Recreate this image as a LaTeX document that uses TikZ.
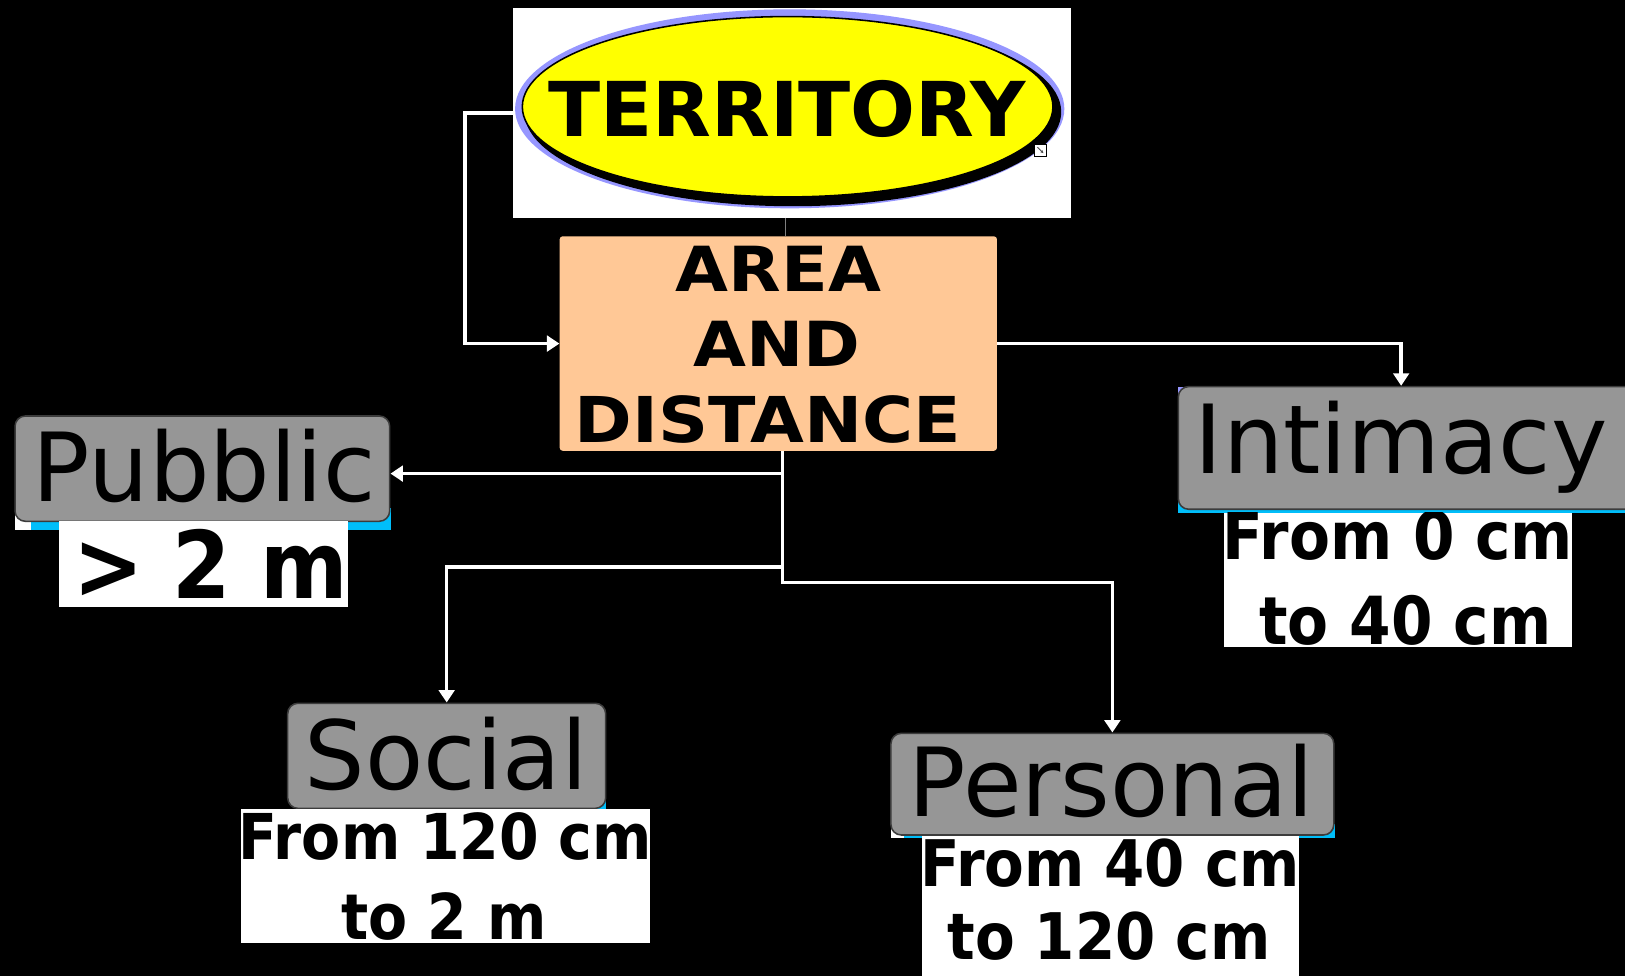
\documentclass[tikz,border=0pt]{standalone}
\usepackage{fontspec}
\usetikzlibrary{arrows.meta,shapes.geometric}
\newfontfamily\regF{DejaVu Sans}
\newfontfamily\terrF[FakeStretch=1.01]{DejaVu Sans Bold}
\newfontfamily\wideF[FakeStretch=1.1]{DejaVu Sans Bold}
\newfontfamily\condF[FakeStretch=0.9]{DejaVu Sans Bold}
\definecolor{boxgray}{RGB}{150,150,150}
\definecolor{boxedge}{RGB}{60,60,60}
\definecolor{peach}{RGB}{255,200,150}
\definecolor{glowcyan}{RGB}{0,190,250}
\definecolor{lavender}{RGB}{150,150,255}
\definecolor{ellyellow}{RGB}{255,255,0}
\begin{document}
\begin{tikzpicture}[x=1pt,y=-1pt,
  conn/.style={draw=white, line width=3.5pt},
  arr/.style={conn, -{Triangle[length=12pt,width=15pt]}},
  graybox/.style={rectangle, rounded corners=10pt, fill=boxgray, draw=boxedge, line width=1.5pt, inner sep=0pt},
  whitebox/.style={rectangle, fill=white, inner sep=0pt},
  lbl/.style={font=\regF\fontsize{92}{92}\selectfont, text=black, anchor=base, inner sep=0pt},
  sub/.style={font=\condF\fontsize{#1}{#1}\selectfont, text=black, anchor=base, inner sep=0pt},
  head/.style={font=\wideF\fontsize{60}{60}\selectfont, text=black, anchor=base, inner sep=0pt}]
\fill[black] (0,0) rectangle (1568,942);
\useasboundingbox (0,0) rectangle (1568,942);

% TERRITORY
\node[whitebox, minimum width=538pt, minimum height=202pt] (terr) at (764,109) {};
\fill[lavender] (762,105) ellipse [x radius=265pt, y radius=96pt];
\fill[black] (765,108) ellipse [x radius=259pt, y radius=91pt];
\filldraw[fill=ellyellow, draw=black, line width=1.5pt] (760,103) ellipse [x radius=256pt, y radius=87pt];
\node[font=\terrF\fontsize{73}{73}\selectfont, anchor=base, inner sep=0pt] (terrt) at (759.5,132) {TERRITORY};
\node[draw=black, fill=white, minimum size=11pt, inner sep=0pt, line width=0.8pt] (icon) at (1004,145) {};
\draw[line width=0.8pt, draw=black!70, -{Latex[length=3pt,width=3pt]}] ([shift={(-3pt,3pt)}]icon.center) -- ([shift={(3pt,-3pt)}]icon.center);

% AREA AND DISTANCE
\node[rectangle, rounded corners=3pt, fill=peach, minimum width=422pt, minimum height=207pt, inner sep=0pt] (area) at (751,331.5) {};
\node[head] (areat1) at (751,281.4) {AREA};
\node[head] (areat2) at (750,353.8) {AND};
\node[head, font=\wideF\fontsize{61}{61}\selectfont] (areat3) at (741,427) {DISTANCE};
\draw[draw=black!50, line width=1pt] ([xshift=-6pt]terr.south) -- ([xshift=-6pt]terr.south |- area.north);

% glow backgrounds
\fill[white] (14.5,490) rectangle (30,511);
\fill[glowcyan] (30,490) rectangle (377,511);
\fill[lavender] (1137,373) rectangle (1152,388);
\fill[glowcyan] (1137,480) rectangle (1580,494.7);
\fill[glowcyan] (570,768) rectangle (585,781);
\fill[white] (859.7,795) rectangle (872,809);
\fill[glowcyan] (872,795) rectangle (1288,809);

% gray boxes
\node[graybox, minimum width=361.5pt, minimum height=101.6pt] (pub) at (195.25,452.2) {};
\node[graybox, minimum width=443pt, minimum height=118.4pt] (int) at (1358.5,432.2) {};
\node[graybox, minimum width=306.8pt, minimum height=101.4pt] (soc) at (431,729.3) {};
\node[graybox, minimum width=427.3pt, minimum height=98.1pt] (per) at (1073.35,756.65) {};
\node[lbl] (pubt) at (197,484) {Pubblic};
\node[lbl] (intt) at (1352,456.7) {Intimacy};
\node[lbl] (soct) at (430.5,762) {Social};
\node[lbl] (pert) at (1072.6,788) {Personal};

% white boxes
\node[whitebox, minimum width=278.5pt, minimum height=82.4pt] (pubw) at (196.25,544.2) {};
\node[whitebox, minimum width=335.8pt, minimum height=129.9pt] (intw) at (1348.9,559.65) {};
\node[whitebox, minimum width=394.5pt, minimum height=129pt] (socw) at (429.75,845.1) {};
\node[whitebox, minimum width=364.4pt, minimum height=138pt] (perw) at (1071.5,876) {};
\begin{scope}
\clip (pubw.north west) rectangle (pubw.south east);
\node[sub=90] (pubs) at (203.3,577.3) {> 2 m};
\end{scope}
\begin{scope}
\clip (intw.north west) rectangle (intw.south east);
\node[sub=64] (ints1) at (1349,540) {From 0 cm};
\node[sub=64] (ints2) at (1356,622) {to 40 cm};
\end{scope}
\begin{scope}
\clip (socw.north west) rectangle (socw.south east);
\node[sub=61] (socs1) at (429.5,829.8) {From 120 cm};
\node[sub=61] (socs2) at (428.5,907) {to 2 m};
\end{scope}
\begin{scope}
\clip (perw.north west) rectangle (perw.south east);
\node[sub=62] (pers1) at (1071,855.5) {From 40 cm};
\node[sub=62] (pers2) at (1070,926) {to 120 cm};
\end{scope}

% connectors
\coordinate (jA) at (755,457);
\coordinate (jB) at (755,547);
\coordinate (jC) at (755,562);
\draw[arr] (terr.west) -- ++(-46,0) |- (area.west);
\draw[arr] (area.east) -| ([xshift=-6.5pt]int.north);
\draw[arr] (area.south -| jA) -- (jA) -- (jA -| pub.east);
\draw[arr] (area.south -| jB) -- (jB) -| (soc.north);
\draw[arr] (area.south -| jC) -- (jC) -| (per.north);
\end{tikzpicture}
\end{document}
